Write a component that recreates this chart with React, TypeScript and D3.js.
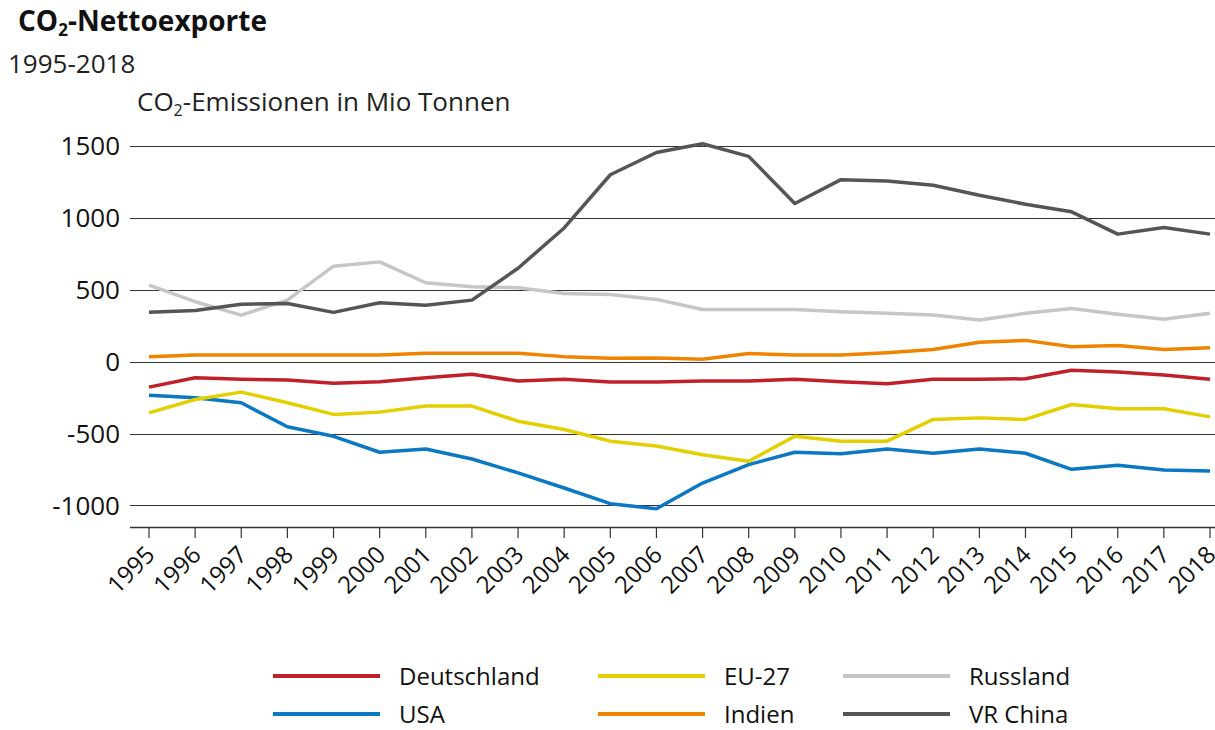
import React from "react";
import * as d3 from "d3";

// Jahre 1995-2018
const years = [
  1995, 1996, 1997, 1998, 1999, 2000, 2001, 2002, 2003, 2004, 2005, 2006,
  2007, 2008, 2009, 2010, 2011, 2012, 2013, 2014, 2015, 2016, 2017, 2018,
];

// CO2-Nettoexporte in Mio Tonnen
const deutschland = [
  -177, -112, -123, -128, -151, -140, -112, -88, -135, -123, -142, -142,
  -135, -135, -123, -140, -153, -123, -123, -119, -60, -72, -93, -123,
];
const usa = [
  -233, -251, -286, -453, -519, -630, -607, -677, -774, -879, -988, -1023,
  -844, -716, -630, -640, -607, -637, -607, -637, -749, -721, -753, -760,
];
const eu27 = [
  -356, -263, -212, -286, -367, -351, -309, -309, -414, -472, -553, -586,
  -647, -693, -519, -553, -553, -402, -391, -402, -298, -328, -328, -384,
];
const indien = [
  35, 46, 46, 46, 46, 46, 58, 58, 58, 35, 23, 25,
  16, 57, 46, 46, 62, 84, 135, 148, 103, 112, 84, 96,
];
const russland = [
  532, 417, 324, 428, 664, 694, 549, 521, 514, 474, 467, 433,
  363, 363, 363, 347, 336, 324, 290, 336, 370, 329, 295, 336,
];
const vrChina = [
  343, 356, 400, 405, 343, 410, 393, 428, 650, 930, 1300, 1455,
  1516, 1428, 1100, 1266, 1257, 1227, 1157, 1095, 1042, 887, 933, 887,
];

const yTicks = [1500, 1000, 500, 0, -500, -1000];

const series = [
  { name: "Deutschland", values: deutschland, color: "#c1202b" },
  { name: "USA", values: usa, color: "#0a78c3" },
  { name: "EU-27", values: eu27, color: "#e4cf00" },
  { name: "Indien", values: indien, color: "#f08300" },
  { name: "Russland", values: russland, color: "#c6c6c6" },
  { name: "VR China", values: vrChina, color: "#555555" },
];

const legendRows = [
  ["Deutschland", "EU-27", "Russland"],
  ["USA", "Indien", "VR China"],
];

const FONT = "'Open Sans', sans-serif";

export default function App() {
  const width = 1215;
  const height = 730;
  const left = 130;
  const right = 1215;

  const x = d3.scaleLinear().domain([1995, 2018]).range([149, 1210]);
  const y = d3.scaleLinear().domain([-1150, 1500]).range([527, 146]);

  const line = d3
    .line<number>()
    .x((_, i) => x(years[i]))
    .y((d) => y(d));

  const colorOf = (n: string) => series.find((s) => s.name === n)!.color;
  const legendLineX = [273, 598, 843];
  const legendRowY = [676, 714];

  return (
    <svg
      width={width}
      height={height}
      style={{ position: "absolute", left: 0, top: 0, fontFamily: FONT }}
    >
      <rect width={width} height={height} fill="#fff" />

      <text x={18} y={31} fontSize={28} fontWeight="bold" fill="#111">
        CO<tspan fontSize={17} dy={5}>2</tspan>
        <tspan dy={-5}>-Nettoexporte</tspan>
      </text>
      <text x={8} y={73} fontSize={26} fill="#222">
        1995-2018
      </text>
      <text x={137} y={111} fontSize={26} fill="#222">
        CO<tspan fontSize={16} dy={5}>2</tspan>
        <tspan dy={-5}>-Emissionen in Mio Tonnen</tspan>
      </text>

      {yTicks.map((t) => (
        <g key={t}>
          <line
            x1={left}
            x2={right}
            y1={Math.round(y(t)) + 0.5}
            y2={Math.round(y(t)) + 0.5}
            stroke="#333"
            strokeWidth={1.2}
          />
          <text
            x={120}
            y={y(t)}
            dy="0.36em"
            textAnchor="end"
            fontSize={26}
            fill="#111"
          >
            {t}
          </text>
        </g>
      ))}

      <line x1={left} x2={right} y1={527.5} y2={527.5} stroke="#333" strokeWidth={1.5} />
      {years.map((yr) => (
        <g key={yr} transform={`translate(${x(yr)},527)`}>
          <line y1={0} y2={11} stroke="#333" strokeWidth={1.2} />
          <text
            transform="translate(-5,17) rotate(-45)"
            textAnchor="end"
            dy="0.72em"
            fontSize={24}
            fill="#111"
          >
            {yr}
          </text>
        </g>
      ))}

      {series.map((s) => (
        <path
          key={s.name}
          d={line(s.values) || ""}
          fill="none"
          stroke={s.color}
          strokeWidth={3.5}
          strokeLinejoin="round"
        />
      ))}

      {legendRows.map((row, r) =>
        row.map((name, c) => (
          <g key={name} transform={`translate(${legendLineX[c]},${legendRowY[r]})`}>
            <line x1={0} x2={107} y1={0} y2={0} stroke={colorOf(name)} strokeWidth={4} />
            <text x={126} y={0} dy="0.36em" fontSize={24} fill="#111">
              {name}
            </text>
          </g>
        ))
      )}
    </svg>
  );
}
